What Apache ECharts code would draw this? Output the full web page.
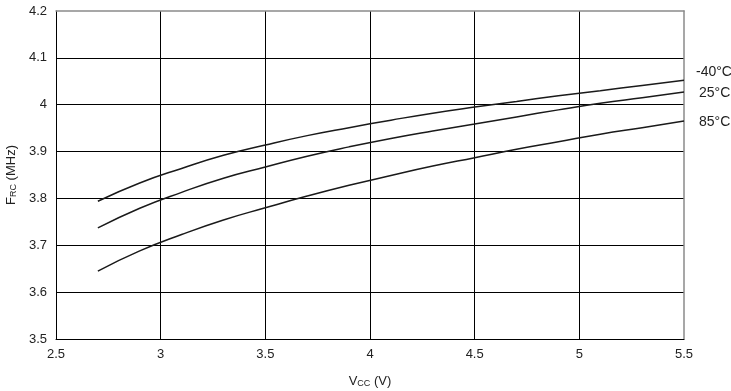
<!DOCTYPE html>
<html><head><meta charset="utf-8">
<script src="https://cdn.jsdelivr.net/npm/echarts@6/dist/echarts.min.js"></script>
<style>html,body{margin:0;padding:0;background:#fff}#c{width:731px;height:391px}</style>
</head><body><div id="c"></div>
<script>
const vcc = [2.7, 2.9, 3.1, 3.3, 3.5, 3.7, 3.9, 4.1, 4.3, 4.5, 4.7, 4.9, 5.1, 5.3, 5.5];
const fM40 = [3.794, 3.833, 3.864, 3.892, 3.914, 3.934, 3.951, 3.967, 3.982, 3.995, 4.007, 4.019, 4.030, 4.041, 4.052];
const f25 = [3.737, 3.779, 3.813, 3.843, 3.867, 3.890, 3.910, 3.928, 3.944, 3.959, 3.974, 3.989, 4.003, 4.015, 4.027];
const f85 = [3.645, 3.688, 3.723, 3.754, 3.780, 3.805, 3.828, 3.849, 3.869, 3.887, 3.905, 3.921, 3.937, 3.951, 3.965];
const seriesNames = ['-40°C', '25°C', '85°C'];
const seriesValues = [fM40, f25, f85];
const labelOffsets = [[4, -8], [7, 1], [7, 1]];

const font = 'Liberation Sans, Arial, sans-serif';
const chart = echarts.init(document.getElementById('c'), null, {renderer: 'canvas'});
chart.setOption({
  animation: false,
  backgroundColor: '#fff',
  grid: {left: 56, right: 47, top: 11, bottom: 52, containLabel: false, outerBoundsMode: 'none'},
  xAxis: [{
    type: 'value', min: 2.5, max: 5.5, interval: 0.5,
    axisLine: {show: true, onZero: false, lineStyle: {color: '#000', width: 1}},
    axisTick: {show: false},
    axisLabel: {color: '#222', fontSize: 13, fontFamily: font, margin: 9},
    splitLine: {show: true, showMinLine: true, showMaxLine: false, lineStyle: {color: '#000', width: 1}},
    name: '{v|V}{s|CC}{v| (V)}', nameLocation: 'middle', nameGap: 35,
    nameTextStyle: {rich: {v: {fontSize: 13, color: '#222', fontFamily: font}, s: {fontSize: 9, color: '#222', fontFamily: font, padding: [5, 0, 0, 0]}}}
  }, {
    type: 'value', min: 2.5, max: 5.5, position: 'top',
    axisLine: {show: true, onZero: false, lineStyle: {color: '#8a8a8a', width: 1.5}},
    axisTick: {show: false}, axisLabel: {show: false}, splitLine: {show: false}
  }],
  yAxis: [{
    type: 'value', min: 3.5, max: 4.2, interval: 0.1,
    axisLine: {show: true, onZero: false, lineStyle: {color: '#000', width: 1}},
    axisTick: {show: false},
    axisLabel: {color: '#222', fontSize: 13, fontFamily: font, margin: 9, formatter: v => String(Math.round(v * 10) / 10)},
    splitLine: {show: true, showMinLine: true, showMaxLine: false, lineStyle: {color: '#000', width: 1}},
    name: '{v|F}{s|RC}{v| (MHz)}', nameLocation: 'middle', nameGap: 37, nameRotate: 90,
    nameTextStyle: {rich: {v: {fontSize: 13, color: '#222', fontFamily: font}, s: {fontSize: 9, color: '#222', fontFamily: font, padding: [5, 0, 0, 0]}}}
  }, {
    type: 'value', min: 3.5, max: 4.2, position: 'right',
    axisLine: {show: true, onZero: false, lineStyle: {color: '#8a8a8a', width: 1.5}},
    axisTick: {show: false}, axisLabel: {show: false}, splitLine: {show: false}
  }],
  series: seriesNames.map((n, i) => ({
    name: n, type: 'line', smooth: true, showSymbol: false, symbol: 'none',
    data: vcc.map((x, j) => [x, seriesValues[i][j]]),
    lineStyle: {color: '#1a1a1a', width: 1.5},
    endLabel: {show: true, formatter: n, color: '#222', fontSize: 14, fontFamily: font, offset: labelOffsets[i]}
  }))
});
</script></body></html>
